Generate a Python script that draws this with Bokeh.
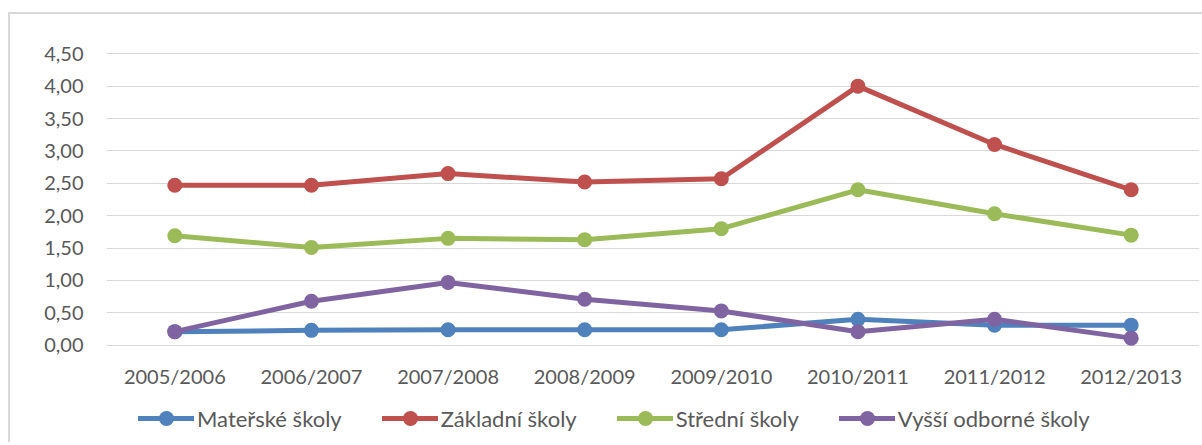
from bokeh.plotting import figure
from bokeh.layouts import column
from bokeh.models import (FixedTicker, CustomJSTickFormatter, Legend, LegendItem,
                          Range1d, FactorRange)
from bokeh.embed import file_html
from bokeh.resources import INLINE

years = ["2005/2006", "2006/2007", "2007/2008", "2008/2009",
         "2009/2010", "2010/2011", "2011/2012", "2012/2013"]
materske = [0.21, 0.23, 0.24, 0.24, 0.24, 0.40, 0.31, 0.31]
zakladni = [2.47, 2.47, 2.65, 2.52, 2.57, 4.00, 3.10, 2.40]
stredni = [1.69, 1.51, 1.65, 1.63, 1.80, 2.40, 2.03, 1.70]
vyssi = [0.21, 0.68, 0.97, 0.71, 0.53, 0.21, 0.40, 0.11]
series_names = ["Mateřské školy", "Základní školy", "Střední školy", "Vyšší odborné školy"]
series_values = [materske, zakladni, stredni, vyssi]
colors = ["#4F81BD", "#C0504D", "#9BBB59", "#8064A2"]
y_ticks = [0.0, 0.5, 1.0, 1.5, 2.0, 2.5, 3.0, 3.5, 4.0, 4.5]

FONT = "Lato"
TEXT = "#595959"
GRID = "#D9D9D9"

# ---- main chart ----
p = figure(x_range=FactorRange(factors=years, range_padding=0),
           y_range=Range1d(-0.05, 4.55),
           width=1192, height=378,
           min_border_left=96, min_border_right=3,
           min_border_top=36, min_border_bottom=44,
           output_backend="svg", toolbar_location=None)
p.outline_line_color = None
p.background_fill_color = "white"
p.border_fill_color = "white"

p.xgrid.grid_line_color = None
p.ygrid.grid_line_color = GRID
p.ygrid.grid_line_width = 1.2
p.ygrid.ticker = FixedTicker(ticks=y_ticks)

p.yaxis.ticker = FixedTicker(ticks=y_ticks)
p.yaxis.formatter = CustomJSTickFormatter(code="return tick.toFixed(2).replace('.', ',');")

for ax in (p.xaxis[0], p.yaxis[0]):
    ax.axis_line_color = None
    ax.major_tick_line_color = None
    ax.minor_tick_line_color = None
    ax.major_tick_out = 0
    ax.major_tick_in = 0
    ax.major_label_text_font = FONT
    ax.major_label_text_font_size = "20px"
    ax.major_label_text_color = TEXT
p.xaxis.major_label_standoff = 15
p.yaxis.major_label_standoff = 23

for vals, col in zip(series_values, colors):
    p.line(years, vals, line_color=col, line_width=5, line_join="round", line_cap="round")
    p.scatter(years, vals, size=15, fill_color=col, line_color=col, line_width=0)

# ---- legend strip (series drawn out of view, only the legend shows) ----
q = figure(x_range=FactorRange(factors=years, range_padding=0),
           y_range=Range1d(100, 101),
           width=1192, height=50,
           min_border_left=0, min_border_right=0, min_border_top=0, min_border_bottom=0,
           output_backend="svg", toolbar_location=None)
q.axis.visible = False
q.grid.visible = False
q.outline_line_color = None
q.background_fill_color = "white"
q.border_fill_color = "white"

items = []
for name, vals, col in zip(series_names, series_values, colors):
    l = q.line(years, vals, line_color=col, line_width=5, line_cap="round")
    s = q.scatter(years, vals, size=15, fill_color=col, line_color=col, line_width=0)
    items.append(LegendItem(label=name, renderers=[l, s]))

legend = Legend(items=items, orientation="horizontal", location=(32, 5),
                glyph_width=56, glyph_height=38, label_standoff=3, spacing=40,
                padding=0, margin=0, border_line_color=None,
                background_fill_alpha=0,
                label_text_font=FONT, label_text_font_size="22px",
                label_text_color=TEXT)
q.add_layout(legend, "center")

layout = column(p, q, spacing=0, margin=(12, 0, 0, 8),
                styles={"border-top": f"2px solid {GRID}", "border-left": f"2px solid {GRID}"})

open("out.html", "w").write(file_html(layout, INLINE))
